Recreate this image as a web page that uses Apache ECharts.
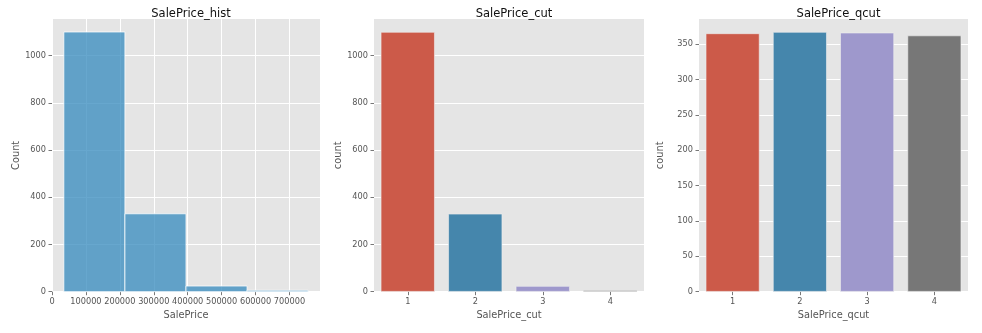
<!DOCTYPE html>
<html><head><meta charset="utf-8">
<script src="https://cdn.jsdelivr.net/npm/echarts@6/dist/echarts.min.js"></script>
<style>html,body{margin:0;padding:0;background:#fff}#c{width:982px;height:333px}</style>
</head><body><div id="c"></div>
<script>
// ---- data ----
const histBinEdges = [34900, 214925, 394950, 574975, 755000];
const histCounts = [1100, 330, 24, 6];
const cutCategories = ['1', '2', '3', '4'];
const cutCounts = [1100, 330, 24, 6];
const qcutCategories = ['1', '2', '3', '4'];
const qcutCounts = [365, 367, 366, 362];
const titles = ['SalePrice_hist', 'SalePrice_cut', 'SalePrice_qcut'];
const xNames = ['SalePrice', 'SalePrice_cut', 'SalePrice_qcut'];
const yNames = ['Count', 'count', 'count'];

const barColors = ['#cc5a49', '#4586ac', '#9e98cc', '#777777'];
const FONT = 'DejaVu Sans';
const tickColor = '#555555';
const plain = v => String(v);

const grids = [
  {left: 52, top: 19, width: 268, height: 272.7},
  {left: 374, top: 19, width: 270, height: 272.7},
  {left: 699, top: 19, width: 269, height: 272.7}
];
grids.forEach(g => { g.show = true; g.backgroundColor = '#E5E5E5'; g.borderWidth = 0; });

const labelStyle = {color: tickColor, fontFamily: FONT, fontSize: 8.2};
const nameStyle = {color: tickColor, fontFamily: FONT, fontSize: 9.8};

function yAxis(i, max, interval, gap) {
  return {
    type: 'value', gridIndex: i, min: 0, max: max, interval: interval,
    name: yNames[i], nameLocation: 'middle', nameGap: gap, nameTextStyle: nameStyle,
    axisLine: {show: false},
    axisTick: {show: true, length: 3.5, lineStyle: {color: tickColor, width: 0.8}},
    axisLabel: Object.assign({margin: 6, showMaxLabel: false, formatter: plain}, labelStyle),
    splitLine: {show: true, showMaxLine: false, lineStyle: {color: '#ffffff', width: 1}}
  };
}
function catAxis(i, cats) {
  return {
    type: 'category', gridIndex: i, data: cats,
    name: xNames[i], nameLocation: 'middle', nameGap: 16, nameTextStyle: nameStyle,
    axisLine: {show: false},
    axisTick: {show: true, alignWithLabel: true, length: 3.5, lineStyle: {color: tickColor, width: 0.8}},
    axisLabel: Object.assign({margin: 6}, labelStyle),
    splitLine: {show: false}
  };
}

const histData = histCounts.map((c, k) => [histBinEdges[k], histBinEdges[k + 1], c]);

const option = {
  animation: false,
  backgroundColor: '#ffffff',
  title: titles.map((t, i) => ({
    text: t, left: grids[i].left + grids[i].width / 2, top: 3, textAlign: 'center',
    textStyle: {fontFamily: FONT, fontSize: 11.5, fontWeight: 'normal', color: '#111'}
  })),
  grid: grids,
  xAxis: [
    {
      type: 'value', gridIndex: 0, min: 0, max: 790000, interval: 100000,
      name: xNames[0], nameLocation: 'middle', nameGap: 16, nameTextStyle: nameStyle,
      axisLine: {show: false},
      axisTick: {show: true, length: 3.5, lineStyle: {color: tickColor, width: 0.8}},
      axisLabel: Object.assign({margin: 6, showMaxLabel: false, formatter: plain, hideOverlap: false}, labelStyle),
      splitLine: {show: true, showMaxLine: false, lineStyle: {color: '#ffffff', width: 1}}
    },
    catAxis(1, cutCategories),
    catAxis(2, qcutCategories)
  ],
  yAxis: [yAxis(0, 1155, 200, 31), yAxis(1, 1155, 200, 28.5), yAxis(2, 385.35, 50, 33.5)],
  series: [
    {
      type: 'custom', xAxisIndex: 0, yAxisIndex: 0, data: histData,
      encode: {x: [0, 1], y: 2},
      renderItem: function (params, api) {
        const p0 = api.coord([api.value(0), api.value(2)]);
        const p1 = api.coord([api.value(1), 0]);
        return {
          type: 'rect',
          shape: {x: p0[0], y: p0[1], width: p1[0] - p0[0], height: p1[1] - p0[1]},
          style: {fill: 'rgba(52,138,189,0.75)', stroke: 'rgba(255,255,255,0.75)', lineWidth: 1}
        };
      }
    },
    {
      type: 'bar', xAxisIndex: 1, yAxisIndex: 1, barCategoryGap: '20%',
      data: cutCounts.map((v, k) => ({value: v, itemStyle: {color: barColors[k]}})),
      itemStyle: {borderColor: '#EEEEEE', borderWidth: 0.6}
    },
    {
      type: 'bar', xAxisIndex: 2, yAxisIndex: 2, barCategoryGap: '20%',
      data: qcutCounts.map((v, k) => ({value: v, itemStyle: {color: barColors[k]}})),
      itemStyle: {borderColor: '#EEEEEE', borderWidth: 0.6}
    }
  ]
};
echarts.init(document.getElementById('c'), null, {renderer: 'canvas'}).setOption(option);
</script></body></html>
